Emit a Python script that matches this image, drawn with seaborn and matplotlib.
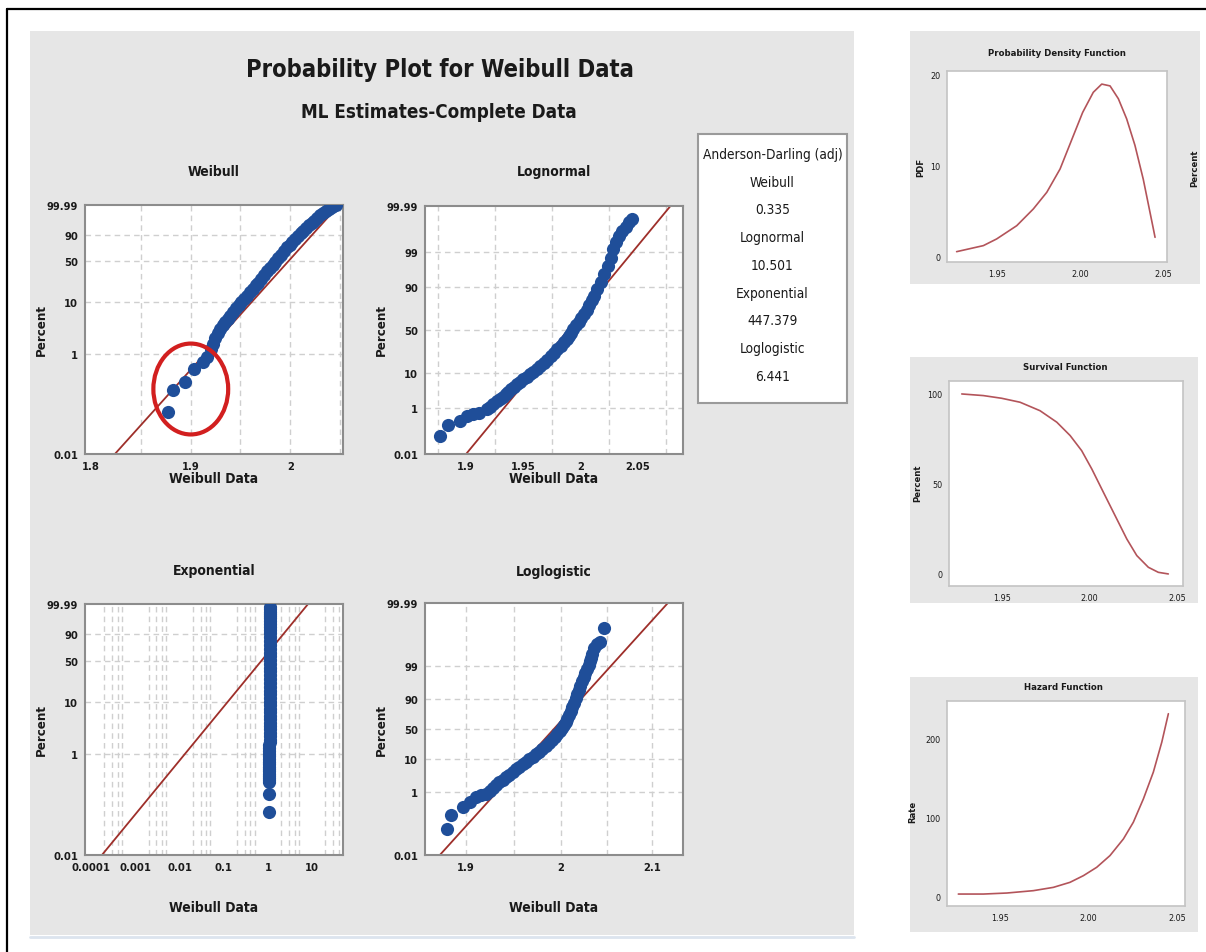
import math
import numpy as np
import matplotlib
matplotlib.use("Agg")
import matplotlib.pyplot as plt
from matplotlib.patches import Rectangle, Ellipse
from matplotlib.lines import Line2D
from matplotlib.ticker import NullFormatter
import seaborn as sns

# ---- data ----
# Weibull probability plot (x = data, p = percent)
wb_x = [1.877, 1.882, 1.894, 1.903, 1.912, 1.916, 1.920, 1.9225, 1.925, 1.9275,
        1.930, 1.9325, 1.935, 1.9375, 1.940, 1.943, 1.946, 1.9485, 1.951, 1.954,
        1.957, 1.960, 1.963, 1.9655, 1.968, 1.971, 1.974, 1.977, 1.980, 1.9825,
        1.985, 1.988, 1.991, 1.994, 1.997, 1.9995, 2.002, 2.005, 2.008, 2.0105,
        2.013, 2.016, 2.019, 2.0215, 2.024, 2.027, 2.030, 2.033, 2.036, 2.039,
        2.042, 2.046]
wb_p = [0.07, 0.19, 0.27, 0.49, 0.67, 0.85, 1.25, 1.57, 2.0, 2.5,
        3.1, 3.6, 4.2, 4.8, 5.5, 6.6, 7.7, 8.8, 10, 11.5,
        13, 15.7, 18, 20.7, 23, 26.9, 31, 35.6, 40, 44.8,
        49, 54.8, 61, 66.9, 73, 77.2, 81, 85.6, 89, 91.9,
        94, 95.9, 97.4, 98.2, 98.8, 99.36, 99.67, 99.83, 99.91, 99.96,
        99.98, 99.99]
wb_fit_x = [1.824, 2.049]
wb_fit_p = [0.01, 99.99]

# Lognormal probability plot
ln_x = [1.877, 1.884, 1.895, 1.901, 1.906, 1.911, 1.918, 1.921, 1.924, 1.927,
        1.930, 1.9325, 1.935, 1.937, 1.939, 1.942, 1.945, 1.9475, 1.950, 1.953,
        1.956, 1.959, 1.962, 1.965, 1.968, 1.971, 1.974, 1.977, 1.980, 1.983,
        1.986, 1.988, 1.990, 1.992, 1.994, 1.9965, 1.999, 2.001, 2.003, 2.0055,
        2.008, 2.010, 2.012, 2.015, 2.018, 2.021, 2.024, 2.0265, 2.029, 2.0315,
        2.034, 2.037, 2.040, 2.0425, 2.045]
ln_p = [0.074, 0.21, 0.32, 0.49, 0.57, 0.66, 0.87, 1.05, 1.3, 1.6,
        1.9, 2.3, 2.7, 3.2, 3.75, 4.4, 5.2, 6.0, 6.9, 8.0,
        9.2, 10.5, 11.9, 13.8, 16, 18.7, 21.8, 24.8, 28, 31.6,
        35.4, 39, 43, 47, 51, 55.5, 60, 64.3, 68.3, 72.8,
        77, 81.2, 84.8, 88.9, 92.4, 95.2, 97.3, 98.5, 99.25, 99.58,
        99.77, 99.85, 99.9, 99.94, 99.957]
ln_fit_x = [1.900, 2.079]
ln_fit_p = [0.01, 99.99]

# Exponential probability plot
ex_x = [1.07, 1.07, 1.08, 1.08, 1.08, 1.08, 1.08, 1.08, 1.08, 1.08,
        1.08, 1.08, 1.08, 1.08, 1.08, 1.08, 1.08, 1.08, 1.09, 1.09,
        1.09, 1.09, 1.09, 1.09, 1.09, 1.09, 1.09, 1.09, 1.09, 1.09,
        1.09, 1.09, 1.09, 1.09, 1.09, 1.09, 1.09, 1.09, 1.09, 1.09,
        1.09, 1.09, 1.09, 1.09, 1.09, 1.09, 1.09, 1.09, 1.09, 1.09,
        1.09, 1.09, 1.09, 1.09, 1.09, 1.09, 1.09, 1.09, 1.09]
ex_p = [0.07, 0.16, 0.28, 0.3, 0.33, 0.36, 0.4, 0.45, 0.5, 0.55,
        0.62, 0.7, 0.8, 0.9, 1.0, 1.15, 1.3, 1.5, 1.7, 1.9,
        2.2, 2.6, 3.0, 3.5, 4.0, 4.7, 5.5, 6.4, 7.5, 8.7,
        10, 12, 14, 16, 19, 22, 26, 30, 35, 40,
        45, 51, 57, 63, 70, 76, 82, 87, 91, 94,
        96, 97.5, 98.5, 99.2, 99.5, 99.7, 99.85, 99.93, 99.97]
ex_fit_x = [0.000175, 8.1]
ex_fit_p = [0.01, 99.99]

# Loglogistic probability plot
ll_x = [1.8805, 1.8846, 1.8973, 1.9041, 1.9109, 1.9160, 1.9210, 1.9245, 1.9280, 1.9314,
        1.9348, 1.9383, 1.9417, 1.9452, 1.9486, 1.9520, 1.9555, 1.9590, 1.9625, 1.9660,
        1.9695, 1.9730, 1.9765, 1.9800, 1.9835, 1.9870, 1.9906, 1.9933, 1.9960, 1.9986,
        2.0012, 2.0030, 2.0048, 2.0066, 2.0084, 2.0102, 2.0120, 2.0138, 2.0156, 2.0173,
        2.0190, 2.0208, 2.0227, 2.0245, 2.0263, 2.0281, 2.0299, 2.0312, 2.0325, 2.0339,
        2.0353, 2.0390, 2.0426, 2.0462]
ll_p = [0.067, 0.18, 0.33, 0.48, 0.69, 0.78, 0.88, 1.1, 1.35, 1.65,
        2.0, 2.4, 2.9, 3.45, 4.1, 5.0, 5.9, 7.0, 8.3, 9.8,
        11.5, 13.5, 15.9, 19, 22.5, 26.3, 30.6, 35.5, 40.5, 45.7,
        51, 56.5, 62, 68, 73.5, 78.5, 83, 87.2, 90.4, 92.7,
        94.5, 96, 97, 97.8, 98.3, 98.8, 99.08, 99.3, 99.45, 99.6,
        99.73, 99.8, 99.83, 99.937]
ll_fit_x = [1.8738, 2.118]
ll_fit_p = [0.01, 99.99]

# Anderson-Darling table
ad_names = ["Weibull", "Lognormal", "Exponential", "Loglogistic"]
ad_values = ["0.335", "10.501", "447.379", "6.441"]

# right hand panels
pdf_x = [1.9257, 1.9418, 1.9498, 1.9619, 1.9719, 1.9800, 1.9880, 1.9960, 2.0016,
         2.0080, 2.0131, 2.0181, 2.0231, 2.0281, 2.0331, 2.0381, 2.0442, 2.0452]
pdf_y = [0.58, 1.24, 1.97, 3.42, 5.25, 7.07, 9.62, 13.26, 15.8,
         18.0, 18.9, 18.7, 17.3, 15.1, 12.2, 8.5, 3.06, 2.15]

surv_x = [1.9270, 1.9393, 1.9498, 1.9603, 1.9717, 1.9813, 1.9889, 1.9955,
          2.0013, 2.0079, 2.0146, 2.0213, 2.0270, 2.0336, 2.0393, 2.0450]
surv_y = [100, 99.1, 97.6, 95.4, 90.7, 84.3, 76.9, 68.5,
          58.3, 45.4, 32.4, 19.4, 10.2, 3.7, 0.9, 0]

haz_x = [1.9264, 1.9406, 1.9538, 1.9688, 1.9801, 1.9895, 1.9971, 2.0046,
         2.0121, 2.0197, 2.0253, 2.0310, 2.0366, 2.0414, 2.0451]
haz_y = [2.5, 2.5, 3.8, 6.8, 11.0, 17.4, 25.9, 36.5,
         51.4, 72.6, 93.8, 123.6, 157.5, 195.8, 231.8]


# ---- probability paper scales ----
def weib_fwd(p):
    p = np.clip(np.asarray(p, float), 1e-7, 100 - 1e-7) / 100
    return np.log(-np.log1p(-p))


def weib_inv(y):
    y = np.clip(np.asarray(y, float), -40, 4)
    return -100 * np.expm1(-np.exp(y))


_z = np.linspace(-8, 8, 4001)
_cdf = 50 * np.array([math.erfc(-v / math.sqrt(2)) for v in _z])


def norm_fwd(p):
    return np.interp(p, _cdf, _z)


def norm_inv(z):
    return np.interp(z, _z, _cdf)


def logit_fwd(p):
    p = np.clip(np.asarray(p, float), 1e-9, 100 - 1e-9)
    return np.log(p / (100 - p))


def logit_inv(y):
    return 100 / (1 + np.exp(-np.asarray(y, float)))


# ---- figure ----
sns.set_style("white")
plt.rcParams["font.family"] = ["DejaVu Sans"]
plt.rcParams["font.stretch"] = "condensed"

W, H = 1206, 953
GRAY = "#e6e6e6"
BLUE = "#1f4e99"
FIT = "#9e2f2a"
CURVE = "#b3545a"
TXT = "#1a1a1a"

fig = plt.figure(figsize=(W / 100, H / 100), dpi=100)


def fbox(l, t, r, b):
    return [l / W, 1 - b / H, (r - l) / W, (b - t) / H]


def ftext(x, y, s, size, **kw):
    fig.text(x / W, 1 - y / H, s, fontsize=size, ha="center", va="center",
             color=TXT, fontstretch="condensed", **kw)


def fill(l, t, r, b, color, edge="none", lw=0, z=-1):
    fig.add_artist(Rectangle((l / W, 1 - b / H), (r - l) / W, (b - t) / H,
                             transform=fig.transFigure, facecolor=color,
                             edgecolor=edge, linewidth=lw, zorder=z))


# grey panels and outer border
fill(30, 32, 854, 936, GRAY)
fill(910, 32, 1200, 285, GRAY)
fill(910, 358, 1198, 604, GRAY)
fill(910, 678, 1198, 933, GRAY)
fig.add_artist(Line2D([30 / W, 854 / W], [1 - 938 / H] * 2, color="#dce4ee", lw=2, transform=fig.transFigure))
fig.add_artist(Line2D([7 / W, 1], [1 - 10 / H] * 2, color="black", lw=1.6, transform=fig.transFigure))
fig.add_artist(Line2D([7 / W, 7 / W], [0, 1 - 10 / H], color="black", lw=1.6, transform=fig.transFigure))

ftext(440, 70, "Probability Plot for Weibull Data", 17, fontweight="bold")
ftext(439, 113, "ML Estimates-Complete Data", 13.5, fontweight="bold")


def prob_panel(rect, fwd, inv, xs, ps, fx, fp, xlog=False):
    ax = fig.add_axes(fbox(*rect))
    ax.set_facecolor("white")
    if xlog:
        ax.set_xscale("log")
    ax.set_yscale("function", functions=(fwd, inv))
    sns.lineplot(x=fx, y=fp, ax=ax, color=FIT, lw=1.3, estimator=None, sort=False, zorder=2)
    sns.scatterplot(x=xs, y=ps, ax=ax, color=BLUE, s=90, linewidth=0, zorder=3, legend=False)
    ax.set_ylim(0.01, 99.99)
    ax.set_xlabel("")
    ax.set_ylabel("")
    return ax


def style_panel(ax, yticks, ylabels, ygrid, xlim, xticks, xlabels, xgrid):
    ax.set_xlim(*xlim)
    ax.xaxis.remove_overlapping_locs = False
    ax.yaxis.remove_overlapping_locs = False
    ax.set_yticks(yticks, labels=ylabels)
    ax.set_yticks(ygrid, minor=True)
    ax.set_xticks(xticks, labels=xlabels)
    ax.set_xticks(xgrid, minor=True)
    ax.xaxis.set_minor_formatter(NullFormatter())
    ax.yaxis.set_minor_formatter(NullFormatter())
    ax.grid(which="major", visible=False)
    ax.grid(which="minor", color="#cfcfcf", linestyle=(0, (4, 3)), linewidth=1.0)
    ax.tick_params(which="minor", length=0)
    ax.tick_params(which="major", length=3, color="#888888", labelsize=8, pad=2, labelcolor=TXT)
    for sp in ax.spines.values():
        sp.set_color("#8c8c8c")
        sp.set_linewidth(1.5)
    for lab in ax.get_xticklabels() + ax.get_yticklabels():
        lab.set_fontweight("bold")
        lab.set_fontstretch("condensed")


wb_ticks = [0.01, 1, 10, 50, 90, 99.99]
wb_labels = ["0.01", "1", "10", "50", "90", "99.99"]
nm_ticks = [0.01, 1, 10, 50, 90, 99, 99.99]
nm_labels = ["0.01", "1", "10", "50", "90", "99", "99.99"]

# Weibull
ax1 = prob_panel((85, 206, 343, 455), weib_fwd, weib_inv, wb_x, wb_p, wb_fit_x, wb_fit_p)
style_panel(ax1, wb_ticks, wb_labels, [1, 10, 50, 90], (1.794, 2.053),
            [1.8, 1.9, 2.0], ["1.8", "1.9", "2"], [1.85, 1.9, 1.95, 2.0, 2.05])
ax1.add_patch(Ellipse((0.41, 0.261), 0.29, 0.365, transform=ax1.transAxes, fill=False,
                      edgecolor="#d21f1f", lw=3, clip_on=False, zorder=5))

# Lognormal
ax2 = prob_panel((425, 207, 683, 455), norm_fwd, norm_inv, ln_x, ln_p, ln_fit_x, ln_fit_p)
style_panel(ax2, nm_ticks, nm_labels, [1, 10, 50, 90, 99], (1.864, 2.090),
            [1.9, 1.95, 2.0, 2.05], ["1.9", "1.95", "2", "2.05"],
            [1.875, 1.925, 1.975, 2.025, 2.075])

# Exponential
ax3 = prob_panel((85, 605, 343, 856), weib_fwd, weib_inv, ex_x, ex_p, ex_fit_x, ex_fit_p, xlog=True)
exp_grid = [m * 10.0 ** e for e in range(-4, 2) for m in (2, 3, 4, 5)]
style_panel(ax3, wb_ticks, wb_labels, [1, 10, 50, 90], (10 ** -4.14, 10 ** 1.28),
            [1e-4, 1e-3, 1e-2, 1e-1, 1, 10], ["0.0001", "0.001", "0.01", "0.1", "1", "10"],
            exp_grid)

# Loglogistic
ax4 = prob_panel((425, 604, 683, 856), logit_fwd, logit_inv, ll_x, ll_p, ll_fit_x, ll_fit_p, xlog=True)
style_panel(ax4, nm_ticks, nm_labels, [1, 10, 50, 90, 99], (1.8589, 2.1353),
            [1.9, 2.0, 2.1], ["1.9", "2", "2.1"], [1.9, 1.95, 2.0, 2.05, 2.1])

for cx, ty, ly, name in [(214, 172, 479, "Weibull"), (554, 172, 479, "Lognormal"),
                         (214, 571, 908, "Exponential"), (554, 572, 908, "Loglogistic")]:
    ftext(cx, ty, name, 10, fontweight="bold")
    ftext(cx, ly, "Weibull Data", 10, fontweight="bold")
for px_, cy in [(41, 330), (381, 330), (41, 730), (381, 730)]:
    ftext(px_, cy, "Percent", 9.5, fontweight="bold", rotation=90)

# Anderson-Darling box
fill(698, 135, 847, 404, "white", edge="#9a9a9a", lw=1.5, z=1)
ad_lines = ["Anderson-Darling (adj)"]
for n, v in zip(ad_names, ad_values):
    ad_lines += [n, v]
for i, s in enumerate(ad_lines):
    ftext(772.5, 155 + 27.75 * i, s, 9.8, zorder=3)


def curve_panel(rect, xs, ys, xlim, ylim, yticks, title, tpos, ylabel, lpos):
    ax = fig.add_axes(fbox(*rect))
    ax.set_facecolor("white")
    sns.lineplot(x=xs, y=ys, ax=ax, color=CURVE, lw=1.2, estimator=None, sort=False)
    ax.set_xlim(*xlim)
    ax.set_ylim(*ylim)
    ax.set_xticks([1.95, 2.0, 2.05], labels=["1.95", "2.00", "2.05"])
    ax.set_yticks(yticks, labels=[str(v) for v in yticks])
    ax.set_xlabel("")
    ax.set_ylabel("")
    ax.tick_params(length=2, color="#999999", labelsize=6.5, pad=3, labelcolor=TXT)
    for lab in ax.get_xticklabels() + ax.get_yticklabels():
        lab.set_fontstretch("condensed")
    for sp in ax.spines.values():
        sp.set_color("#c4c4c4")
        sp.set_linewidth(1.2)
    ftext(tpos[0], tpos[1], title, 6.8, fontweight="bold")
    ftext(lpos[0], lpos[1], ylabel, 6.8, fontweight="bold", rotation=90)
    return ax


curve_panel((947, 72, 1167, 263), pdf_x, pdf_y, (1.9199, 2.0524), (-0.55, 20.33), [0, 10, 20],
            "Probability Density Function", (1057, 53), "PDF", (921, 167))
curve_panel((949, 382, 1183, 587), surv_x, surv_y, (1.9197, 2.0534), (-6.7, 107.2), [0, 50, 100],
            "Survival Function", (1065, 367), "Percent", (918, 483))
curve_panel((947, 702, 1185, 907), haz_x, haz_y, (1.920, 2.0545), (-12.7, 248), [0, 100, 200],
            "Hazard Function", (1063, 687), "Rate", (913, 812))
ftext(1195, 168, "Percent", 6.8, fontweight="bold", rotation=90)

fig.savefig("out.png", dpi=100)
